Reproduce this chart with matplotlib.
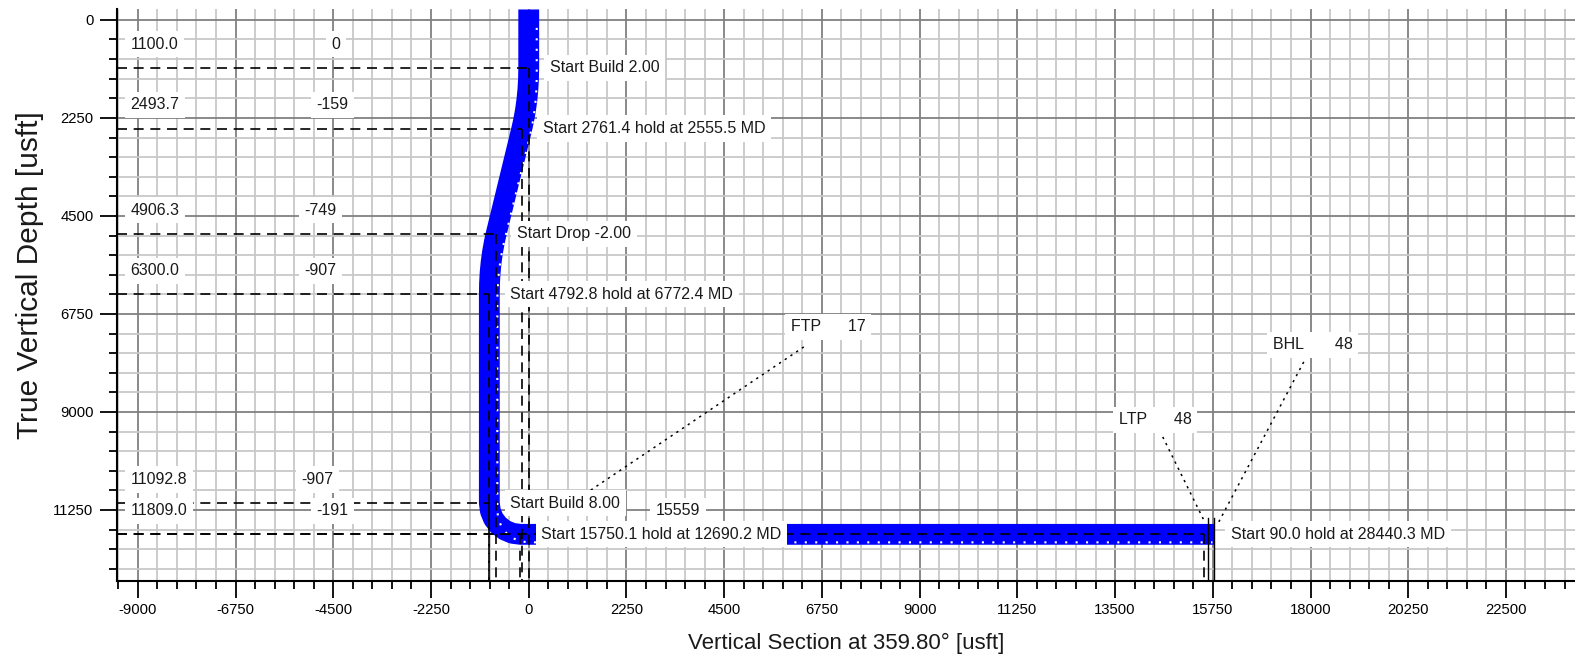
import numpy as np
import matplotlib
matplotlib.use('Agg')
import matplotlib.pyplot as plt
from matplotlib.ticker import MultipleLocator
from matplotlib.transforms import offset_copy

plt.rcParams['font.family'] = ['Liberation Sans', 'DejaVu Sans']
plt.rcParams['axes.unicode_minus'] = False

path_tvd = [0, 1100.0, 1350, 1597, 1841, 2080, 2311, 2493.7, 4906.3, 5089, 5320, 5558,
            5802, 6050, 6300.0, 11092.8, 11278, 11451, 11599, 11713, 11785, 11809.0, 11809.0]
path_vs = [0, 0, -5, -19, -43, -76, -118, -159, -749, -790, -832, -865,
           -889, -903, -907, -907, -882, -811, -697, -549, -376, -191, 15559]

# plan stations
st_tvd = [1100.0, 2493.7, 4906.3, 6300.0, 11092.8, 11809.0, 11809.0]
st_vs = [0, -159, -749, -907, -907, -191, 15559]
st_notes = ['Start Build 2.00', 'Start 2761.4 hold at 2555.5 MD', 'Start Drop -2.00',
            'Start 4792.8 hold at 6772.4 MD', 'Start Build 8.00',
            'Start 15750.1 hold at 12690.2 MD', 'Start 90.0 hold at 28440.3 MD']
tvd_labels = ['1100.0', '2493.7', '4906.3', '6300.0', '11092.8', '11809.0']
vs_labels = ['0', '-159', '-749', '-907', '-907', '-191']
vs_label_x = [-4444, -4513, -4789, -4789, -4858, -4513]

# targets
tgt_names = ['FTP      17', 'LTP      48', 'BHL       48']
tgt_label_vs = [6033, 13585, 17131]
tgt_label_tvd = [7048, 9183, 7461]
tgt_lead_vs = [[6333, 921], [14598, 15542], [17845, 15888]]
tgt_lead_tvd = [[7507, 11134], [9573, 11478], [7851, 11524]]
tgt_vs = [15650, 15770]

XMIN, XMAX = -9480, 24090
YMIN, YMAX = 12880, -250

fig = plt.figure(figsize=(15.75, 6.61), dpi=100)
ax = fig.add_axes([117/1575, 80/661, 1458/1575, 572/661])
ax.set_xlim(XMIN, XMAX)
ax.set_ylim(YMIN, YMAX)

ax.xaxis.set_minor_locator(MultipleLocator(450))
ax.yaxis.set_minor_locator(MultipleLocator(450))
ax.set_yticks([0, 2250, 4500, 6750, 9000, 11250])
ax.set_xticks(np.arange(-9000, 22501, 2250))
ax.grid(which='minor', color='#c8c8c8', lw=1.3, zorder=0)
ax.grid(which='major', color='#808080', lw=1.3, zorder=0)
ax.set_axisbelow(True)
ax.tick_params(which='major', direction='out', length=12, width=1.3, labelsize=10.7, pad=4)
ax.tick_params(which='minor', direction='out', length=6, width=1.3)
ax.tick_params(axis='y', pad=5)
for s in ['top', 'right']:
    ax.spines[s].set_visible(False)
for s in ['left', 'bottom']:
    ax.spines[s].set_linewidth(1.5)

# hole band
ax.plot(path_vs, path_tvd, color='#0000ff', lw=15, solid_capstyle='projecting',
        solid_joinstyle='round', zorder=2)
shift = offset_copy(ax.transData, fig=fig, x=8, y=-8, units='dots')
ax.plot(path_vs, path_tvd, color='white', lw=1.5, ls=(0, (1, 4)), transform=shift, zorder=3)

# reference lines at each station
dash = (0, (6, 4))
for tvd, vs in zip(st_tvd, st_vs):
    ax.plot([XMIN, vs], [tvd, tvd], color='black', lw=1.2, ls=dash, zorder=3)
    ax.plot([vs, vs], [tvd, YMIN], color='black', lw=1.2, ls=dash, zorder=3)
for vs in tgt_vs:
    ax.plot([vs, vs], [11430, YMIN], color='black', lw=1.0, zorder=3)

box = dict(boxstyle='square,pad=0.35', fc='white', ec='none')
fs = 11.5

for tvd, vs, note in zip(st_tvd, st_vs, st_notes):
    dx = 19 if vs > 10000 else 15
    ax.annotate(note, (vs, tvd), xytext=(dx, 0), textcoords='offset points',
                ha='left', va='center', fontsize=fs, color='#1a1a1a', bbox=box, zorder=6)

for tvd, lab, vlab, vx in zip(st_tvd, tvd_labels, vs_labels, vs_label_x):
    ax.annotate(lab, (-9164, tvd), xytext=(0, 17), textcoords='offset points',
                ha='left', va='center', fontsize=fs, color='#1a1a1a', bbox=box, zorder=6)
    ax.annotate(vlab, (vx, tvd), xytext=(0, 17), textcoords='offset points',
                ha='center', va='center', fontsize=fs, color='#1a1a1a', bbox=box, zorder=6)
ax.annotate(str(st_vs[-1]), (3431, st_tvd[-1]), xytext=(0, 17), textcoords='offset points',
            ha='center', va='center', fontsize=fs, color='#1a1a1a', bbox=box, zorder=6)

for name, lx, ly, lvs, ltvd in zip(tgt_names, tgt_label_vs, tgt_label_tvd, tgt_lead_vs, tgt_lead_tvd):
    ax.plot(lvs, ltvd, color='black', lw=1.1, ls=(0, (1.5, 3)), zorder=4)
    ax.text(lx, ly, name, ha='left', va='center', fontsize=fs, color='#1a1a1a',
            bbox=box, zorder=6)

fig.text(846/1575, 1 - 643/661, 'Vertical Section at 359.80° [usft]', ha='center', va='center',
         fontsize=16, color='#1a1a1a')
fig.text(30/1575, 1 - 275/661, 'True Vertical Depth [usft]', ha='center', va='center',
         rotation=90, fontsize=21.5, color='#1a1a1a')

fig.savefig('out.png', dpi=100)
